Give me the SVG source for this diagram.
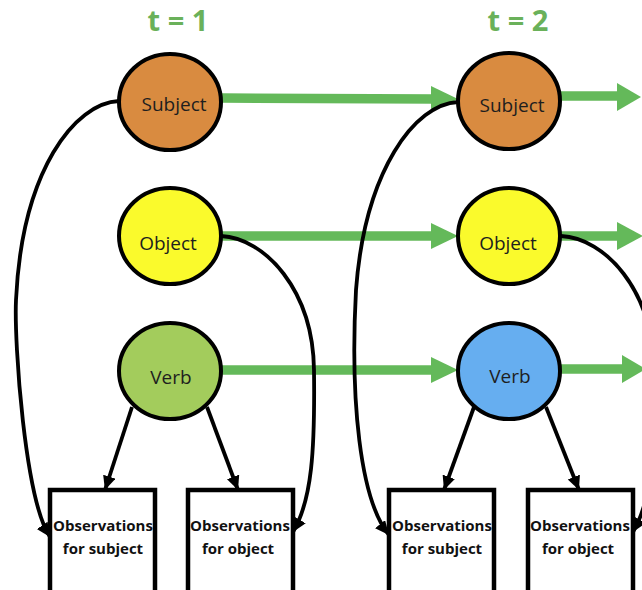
<svg xmlns="http://www.w3.org/2000/svg" width="642" height="590" viewBox="0 0 642 590">
<style>
.title{font-family:"Open Sans","Liberation Sans",sans-serif;font-weight:bold;font-size:29px;fill:#6ab15a;text-anchor:middle}
.node{stroke:#000;stroke-width:4}
.lbl{font-family:"Open Sans","Liberation Sans",sans-serif;font-size:19px;fill:#1e1e1e;text-anchor:middle}
.obs{font-family:"Open Sans","Liberation Sans",sans-serif;font-weight:bold;font-size:15px;fill:#111;text-anchor:middle}
.boxfill{fill:#fff;stroke:none}
.boxline{fill:none;stroke:#000;stroke-width:4.5}
.gline{stroke:#64b95a;stroke-width:9.5;fill:none}
.ghead{fill:#64b95a}
.bl{stroke:#000;stroke-width:3.8;fill:none;marker-end:url(#ah)}
</style>
<defs>
<marker id="ah" markerUnits="userSpaceOnUse" markerWidth="16" markerHeight="14" refX="14" refY="6.5" orient="auto">
<path d="M0,0 L14,6.5 L0,13 z" fill="#000"/>
</marker>
</defs>
<rect width="642" height="590" fill="#fff"/>
<text class="title" x="178" y="31">t = 1</text>
<text class="title" x="518" y="31">t = 2</text>
<g id="connectors">
<line class="gline" x1="222" y1="98" x2="434" y2="99"/>
<polygon class="ghead" points="431,86 458,99 431,112"/>
<line class="gline" x1="561" y1="96" x2="620" y2="96"/>
<polygon class="ghead" points="617,83 641,97 617,111"/>
<line class="gline" x1="221" y1="236" x2="434" y2="236"/>
<polygon class="ghead" points="431,223 458,236 431,249"/>
<line class="gline" x1="561" y1="236" x2="620" y2="236"/>
<polygon class="ghead" points="617,222 643,236 617,250"/>
<line class="gline" x1="221" y1="370" x2="434" y2="370"/>
<polygon class="ghead" points="431,357 458,370 431,383"/>
<line class="gline" x1="561" y1="369" x2="625" y2="369"/>
<polygon class="ghead" points="622,355 646,369 622,383"/>
<path class="bl" d="M119,101 C75,103 22,170 16,300 C14,343 25,500 50,537"/>
<path class="bl" d="M221,236 C265,238 313,290 314,370 C315,450 312,500 293,532"/>
<path class="bl" d="M458,102 C415,104 365,170 356,290 C350,400 360,500 389,535"/>
<path class="bl" d="M561,236 C605,238 653,290 654,370 C655,450 652,500 633,532"/>
<line class="bl" x1="132" y1="407" x2="105" y2="490"/>
<line class="bl" x1="207" y1="407" x2="238" y2="490"/>
<line class="bl" x1="474" y1="407" x2="444" y2="490"/>
<line class="bl" x1="546" y1="407" x2="579" y2="490"/>
</g>
<g id="subject1"><ellipse class="node" cx="170" cy="102" rx="51" ry="48" fill="#d98b40"/><text class="lbl" x="174" y="111">Subject</text></g>
<g id="object1"><ellipse class="node" cx="170" cy="236" rx="51" ry="48" fill="#fafa2c"/><text class="lbl" x="168" y="250">Object</text></g>
<g id="verb1"><ellipse class="node" cx="170" cy="371" rx="51" ry="48" fill="#a3cc5c"/><text class="lbl" x="171" y="384">Verb</text></g>
<g id="subject2"><ellipse class="node" cx="509" cy="101" rx="51" ry="48" fill="#d98b40"/><text class="lbl" x="512" y="112">Subject</text></g>
<g id="object2"><ellipse class="node" cx="509" cy="236" rx="51" ry="48" fill="#fafa2c"/><text class="lbl" x="508" y="250">Object</text></g>
<g id="verb2"><ellipse class="node" cx="509" cy="371" rx="51" ry="48" fill="#66aef0"/><text class="lbl" x="510" y="383">Verb</text></g>
<g id="obs_subject1"><rect class="boxfill" x="50" y="490" width="105" height="110"/><text class="obs" x="103" y="531">Observations</text><text class="obs" x="103" y="554">for subject</text><rect class="boxline" x="50" y="490" width="105" height="110"/></g>
<g id="obs_object1"><rect class="boxfill" x="188" y="490" width="105" height="110"/><text class="obs" x="240" y="531">Observations</text><text class="obs" x="238" y="554">for object</text><rect class="boxline" x="188" y="490" width="105" height="110"/></g>
<g id="obs_subject2"><rect class="boxfill" x="389" y="490" width="105" height="110"/><text class="obs" x="442" y="531">Observations</text><text class="obs" x="442" y="554">for subject</text><rect class="boxline" x="389" y="490" width="105" height="110"/></g>
<g id="obs_object2"><rect class="boxfill" x="528" y="490" width="105" height="110"/><text class="obs" x="580" y="531">Observations</text><text class="obs" x="578" y="554">for object</text><rect class="boxline" x="528" y="490" width="105" height="110"/></g>
</svg>
